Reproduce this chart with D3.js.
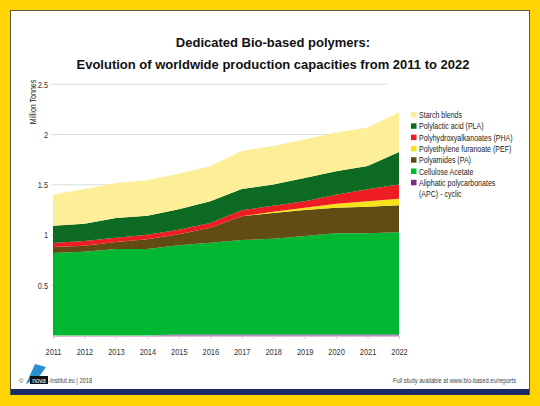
<!DOCTYPE html>
<html><head><meta charset="utf-8">
<script src="https://cdn.jsdelivr.net/npm/d3@7"></script>
<style>
html,body{margin:0;padding:0;background:#FFD400;}
svg{display:block;}
text{font-family:"Liberation Sans",Arial,Helvetica,sans-serif;}
</style></head><body>
<svg id="c" width="540" height="406"></svg>
<script>
const years = [2011,2012,2013,2014,2015,2016,2017,2018,2019,2020,2021,2022];
const apc       = [0,0,0,0,0.01,0.01,0.01,0.01,0.01,0.01,0.01,0.01];
const cellulose = [0.82,0.834,0.86,0.86,0.887,0.914,0.94,0.953,0.98,1.007,1.007,1.017];
const polyamides= [0.06,0.06,0.07,0.097,0.11,0.149,0.236,0.256,0.259,0.255,0.265,0.269];
const pef       = [0,0,0,0,0,0,0,0.013,0.023,0.04,0.054,0.066];
const pha       = [0.04,0.046,0.043,0.046,0.046,0.047,0.06,0.06,0.064,0.09,0.119,0.14];
const pla       = [0.173,0.173,0.196,0.19,0.203,0.216,0.212,0.21,0.232,0.233,0.233,0.325];
const starch    = [0.309,0.345,0.349,0.352,0.355,0.348,0.379,0.385,0.382,0.385,0.382,0.392];
const yTicks = [0.5,1,1.5,2,2.5];
const seriesNames = ["Aliphatic polycarbonates (APC) - cyclic","Cellulose Acetate","Polyamides (PA)","Polyethylene furanoate (PEF)","Polyhydroxyalkanoates (PHA)","Polylactic acid (PLA)","Starch blends"];
const seriesKeys = ["apc","cellulose","pa","pef","pha","pla","starch"];
const seriesColors = ["#7a2a8c","#00b731","#614c14","#f7e21c","#ee1d23","#0d6a22","#fdee98"];
const title1 = "Dedicated Bio-based polymers:";
const title2 = "Evolution of worldwide production capacities from 2011 to 2022";

const table = years.map((y,i)=>({year:y,apc:apc[i],cellulose:cellulose[i],pa:polyamides[i],pef:pef[i],pha:pha[i],pla:pla[i],starch:starch[i]}));

const svg = d3.select("#c");
svg.append("rect").attr("x",10.5).attr("y",10.5).attr("width",519).attr("height",384).attr("fill","#fff").attr("stroke","#5a5a3a").attr("stroke-width",1);
svg.append("rect").attr("x",11).attr("y",389).attr("width",518).attr("height",6).attr("fill","#1b2d66");

svg.append("text").attr("x",273).attr("y",47).attr("text-anchor","middle").attr("font-weight","bold").attr("font-size",13).attr("fill","#111").text(title1);
svg.append("text").attr("x",273).attr("y",68.5).attr("text-anchor","middle").attr("font-weight","bold").attr("font-size",13).attr("fill","#111").text(title2);

const x = d3.scaleLinear().domain([2011,2022]).range([53,399]);
const y = d3.scaleLinear().domain([0,2.5]).range([335.5,84.3]);

svg.append("g").selectAll("line").data(yTicks).join("line")
  .attr("x1",51).attr("x2",387).attr("y1",d=>y(d)).attr("y2",d=>y(d))
  .attr("stroke","#dcdcdc").attr("stroke-width",1);

const stack = d3.stack().keys(seriesKeys);
const layers = stack(table);
const area = d3.area().x(d=>x(d.data.year)).y0(d=>y(d[0])).y1(d=>y(d[1]));
svg.append("g").selectAll("path").data(layers).join("path")
  .attr("d",area).attr("fill",(d,i)=>seriesColors[i]);

const yAxis = d3.axisLeft(y).tickValues(yTicks).tickSize(0).tickPadding(0).tickFormat(d=>d);
const ya = svg.append("g").attr("transform","translate(48,0)").call(yAxis);
ya.select(".domain").remove();
ya.selectAll("text").attr("x",0).attr("font-size",9).attr("fill","#333").attr("transform","scale(0.82,1)");

const xAxis = d3.axisBottom(x).tickValues(years).tickSize(3).tickPadding(9).tickFormat(d3.format("d"));
const xa = svg.append("g").attr("transform","translate(0,336)").call(xAxis);
xa.select(".domain").attr("stroke","#e0b8d8");
xa.selectAll(".tick line").attr("stroke","#ccc");
xa.selectAll("text").attr("font-size",9.5).attr("fill","#333").attr("transform","scale(0.78,1)");

svg.append("text").attr("transform","translate(36,102) rotate(-90) scale(0.85,1)").attr("text-anchor","middle").attr("font-size",8.3).attr("fill","#222").text("Million Tonnes");

const legendOrder = [6,5,4,3,2,1,0];
const lg = svg.append("g").attr("transform","translate(411,112)");
legendOrder.forEach((si,k)=>{
  const g = lg.append("g").attr("transform",`translate(0,${k*11.3})`);
  g.append("rect").attr("x",0).attr("y",0).attr("width",5.5).attr("height",5.5).attr("fill",seriesColors[si]);
  const t = g.append("text").attr("transform","translate(8,6) scale(0.83,1)").attr("font-size",8.5).attr("fill","#222");
  if(si===0){
    t.append("tspan").attr("x",0).text("Aliphatic polycarbonates");
    t.append("tspan").attr("x",0).attr("dy",11.3).text("(APC) - cyclic");
  } else t.text(seriesNames[si]);
});

const f = svg.append("g");
f.append("text").attr("x",19).attr("y",383).attr("font-size",6).attr("fill","#444").text("©");
f.append("path").attr("d","M26,384 L35,364 L46,367 L39,377 Z").attr("fill","#2a8fd0");
f.append("rect").attr("x",30).attr("y",376).attr("width",18).attr("height",8).attr("fill","#111");
f.append("text").attr("transform","translate(39,382.5) scale(0.9,1)").attr("text-anchor","middle").attr("font-size",7).attr("fill","#fff").text("nova");
f.append("text").attr("transform","translate(48,383) scale(0.82,1)").attr("font-size",7).attr("fill","#444").text("-Institut.eu | 2018");
f.append("text").attr("transform","translate(516,383) scale(0.82,1)").attr("text-anchor","end").attr("font-size",7).attr("fill","#444").text("Full study available at www.bio-based.eu/reports");
</script></body></html>
